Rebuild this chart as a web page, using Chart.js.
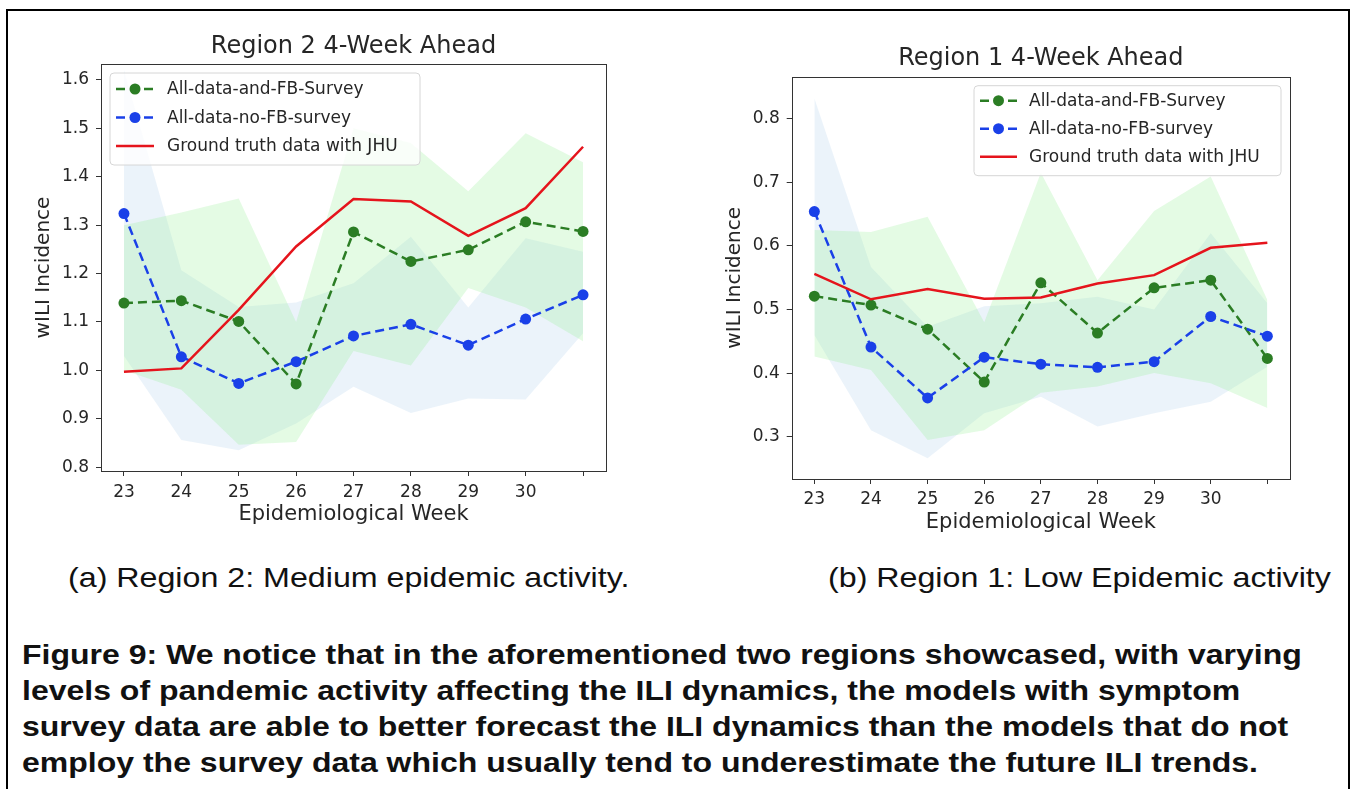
<!DOCTYPE html>
<html>
<head>
<meta charset="utf-8">
<script src="https://cdn.jsdelivr.net/npm/chart.js@4.4.1/dist/chart.umd.min.js"></script>
<style>
  html, body { margin: 0; padding: 0; background: #fff; }
  body { width: 1356px; height: 789px; position: relative; overflow: hidden; }
  #frame { position: absolute; left: 6px; top: 9px; width: 1344px; height: 800px;
           border: 2px solid #000; border-bottom: none; box-sizing: border-box; }
  canvas { position: absolute; top: 0; }
  #c1 { left: 0; }
  #c2 { left: 680px; }
  .sub { position: absolute; font-family: "Liberation Sans", Arial, sans-serif; font-size: 28px;
         color: #111; white-space: nowrap; line-height: 32px; transform-origin: left center;
         transform: scaleX(1.15); }
  #capA { left: 68px; top: 562px; }
  #capB { left: 828px; top: 562px; }
  #fig { position: absolute; left: 22px; top: 637px; font-family: "Liberation Sans", Arial, sans-serif;
         font-weight: bold; font-size: 28px; line-height: 36px; color: #111; white-space: nowrap;
         transform-origin: left top; transform: scaleX(1.143); }
</style>
</head>
<body>
<div id="frame"></div>
<canvas id="c1" width="680" height="545"></canvas>
<canvas id="c2" width="676" height="545"></canvas>
<div class="sub" id="capA">(a) Region 2: Medium epidemic activity.</div>
<div class="sub" id="capB">(b) Region 1: Low Epidemic activity</div>
<div id="fig">Figure 9: We notice that in the aforementioned two regions showcased, with varying<br>levels of pandemic activity affecting the ILI dynamics, the models with symptom<br>survey data are able to better forecast the ILI dynamics than the models that do not<br>employ the survey data which usually tend to underestimate the future ILI trends.</div>
<script>
// ---------------- data ----------------
const weeks = [23, 24, 25, 26, 27, 28, 29, 30, 31];
const xTickLabels = ['23', '24', '25', '26', '27', '28', '29', '30', ''];
const seriesNames = ['All-data-and-FB-Survey', 'All-data-no-FB-survey', 'Ground truth data with JHU'];
const chartTitles = ['Region 2 4-Week Ahead', 'Region 1 4-Week Ahead'];
const xAxisTitle = 'Epidemiological Week';
const yAxisTitle = 'wILI Incidence';

// Region 2 (left)
const r2YTicks = [0.8, 0.9, 1.0, 1.1, 1.2, 1.3, 1.4, 1.5, 1.6];
const r2Green      = [1.139, 1.144, 1.101, 0.972, 1.286, 1.225, 1.249, 1.307, 1.287];
const r2GreenUpper = [1.300, 1.326, 1.355, 1.100, 1.500, 1.470, 1.370, 1.490, 1.430];
const r2GreenLower = [1.000, 0.960, 0.846, 0.852, 1.040, 1.010, 1.170, 1.130, 1.060];
const r2Blue       = [1.324, 1.028, 0.973, 1.018, 1.071, 1.095, 1.052, 1.106, 1.156];
const r2BlueUpper  = [1.620, 1.207, 1.131, 1.140, 1.180, 1.276, 1.130, 1.273, 1.245];
const r2BlueLower  = [1.030, 0.856, 0.835, 0.890, 0.966, 0.912, 0.942, 0.940, 1.077];
const r2Truth      = [0.997, 1.004, 1.125, 1.256, 1.354, 1.349, 1.278, 1.335, 1.462];

// Region 1 (right)
const r1YTicks = [0.3, 0.4, 0.5, 0.6, 0.7, 0.8];
const r1Green      = [0.521, 0.507, 0.469, 0.386, 0.542, 0.463, 0.534, 0.546, 0.423];
const r1GreenUpper = [0.625, 0.622, 0.646, 0.480, 0.715, 0.546, 0.655, 0.709, 0.515];
const r1GreenLower = [0.426, 0.405, 0.295, 0.310, 0.369, 0.379, 0.400, 0.384, 0.345];
const r1Blue       = [0.654, 0.441, 0.361, 0.425, 0.414, 0.409, 0.418, 0.489, 0.458];
const r1BlueUpper  = [0.832, 0.567, 0.473, 0.505, 0.510, 0.520, 0.500, 0.620, 0.510];
const r1BlueLower  = [0.460, 0.310, 0.266, 0.337, 0.363, 0.316, 0.337, 0.355, 0.410];
const r1Truth      = [0.556, 0.516, 0.532, 0.517, 0.519, 0.541, 0.554, 0.597, 0.605];

// ---------------- styling ----------------
const FONT = '"DejaVu Sans", sans-serif';
const TXT = '#262626';
const GREEN = '#2b7d24';
const BLUE = '#1a40e8';
const RED = '#e5141c';
const GREEN_BAND = 'rgba(144, 238, 144, 0.24)';
const BLUE_BAND = 'rgba(173, 205, 235, 0.24)';

const pts = arr => weeks.map((w, i) => ({ x: w, y: arr[i] }));

const boxAndLegend = {
  id: 'boxAndLegend',
  afterDatasetsDraw(chart, args, o) {
    const ctx = chart.ctx, ca = chart.chartArea;
    ctx.save();
    // axes box
    ctx.strokeStyle = '#333';
    ctx.lineWidth = 1;
    ctx.setLineDash([]);
    ctx.strokeRect(Math.round(ca.left) + 0.5, Math.round(ca.top) + 0.5,
                   Math.round(ca.right - ca.left), Math.round(ca.bottom - ca.top));
    // title centred over the axes
    ctx.fillStyle = TXT;
    ctx.font = o.titleSize + 'px ' + FONT;
    ctx.textAlign = 'center';
    ctx.textBaseline = 'middle';
    ctx.fillText(o.title, (ca.left + ca.right) / 2, ca.top - o.titleGap);
    // legend
    const w = o.width, h = o.height;
    const x0 = o.anchor === 'right' ? ca.right - o.inset - w : ca.left + o.inset;
    const y0 = ca.top + o.inset;
    ctx.beginPath();
    const r = 4;
    ctx.moveTo(x0 + r, y0);
    ctx.arcTo(x0 + w, y0, x0 + w, y0 + h, r);
    ctx.arcTo(x0 + w, y0 + h, x0, y0 + h, r);
    ctx.arcTo(x0, y0 + h, x0, y0, r);
    ctx.arcTo(x0, y0, x0 + w, y0, r);
    ctx.closePath();
    ctx.fillStyle = 'rgba(255,255,255,0.8)';
    ctx.fill();
    ctx.strokeStyle = '#d6d6d6';
    ctx.stroke();
    o.items.forEach((idx, i) => {
      const ds = chart.data.datasets[idx];
      const cy = y0 + o.rowTop + i * o.rowGap;
      const hx = x0 + o.handleLeft, hl = o.handleLen;
      ctx.strokeStyle = ds.borderColor;
      ctx.lineWidth = ds.borderWidth;
      ctx.setLineDash(ds.borderDash || []);
      ctx.beginPath();
      ctx.moveTo(hx, cy);
      ctx.lineTo(hx + hl, cy);
      ctx.stroke();
      ctx.setLineDash([]);
      if (ds.pointRadius > 0) {
        ctx.beginPath();
        ctx.arc(hx + hl / 2, cy, ds.pointRadius, 0, Math.PI * 2);
        ctx.fillStyle = ds.pointBackgroundColor;
        ctx.fill();
      }
      ctx.fillStyle = TXT;
      ctx.font = o.fontSize + 'px ' + FONT;
      ctx.textBaseline = 'middle';
      ctx.textAlign = 'left';
      ctx.fillText(seriesNames[i], x0 + o.textLeft, cy + 1);
    });
    ctx.restore();
  }
};

function makeChart(id, d, g) {
  const datasets = [
    { label: seriesNames[2], data: pts(d.truth), borderColor: RED, backgroundColor: RED,
      borderWidth: 2.5, pointRadius: 0, fill: false, tension: 0 },
    { label: seriesNames[1], data: pts(d.blue), borderColor: BLUE, backgroundColor: BLUE,
      borderWidth: 2.5, borderDash: [9, 5], pointRadius: 5.5, pointBackgroundColor: BLUE,
      pointBorderWidth: 0, fill: false, tension: 0 },
    { label: seriesNames[0], data: pts(d.green), borderColor: GREEN, backgroundColor: GREEN,
      borderWidth: 2.5, borderDash: [9, 5], pointRadius: 5.5, pointBackgroundColor: GREEN,
      pointBorderWidth: 0, fill: false, tension: 0 },
    { label: 'gU', data: pts(d.greenUpper), borderWidth: 0, pointRadius: 0,
      backgroundColor: GREEN_BAND, fill: '+1', tension: 0 },
    { label: 'gL', data: pts(d.greenLower), borderWidth: 0, pointRadius: 0, fill: false, tension: 0 },
    { label: 'bU', data: pts(d.blueUpper), borderWidth: 0, pointRadius: 0,
      backgroundColor: BLUE_BAND, fill: '+1', tension: 0 },
    { label: 'bL', data: pts(d.blueLower), borderWidth: 0, pointRadius: 0, fill: false, tension: 0 }
  ];
  return new Chart(document.getElementById(id), {
    type: 'line',
    data: { datasets },
    plugins: [boxAndLegend],
    options: {
      responsive: false,
      animation: false,
      devicePixelRatio: 1,
      layout: { padding: { left: 0, right: g.padRight, top: g.padTop, bottom: 0 } },
      plugins: {
        legend: { display: false },
        tooltip: { enabled: false },
        filler: { propagate: false },
        title: { display: false },
        boxAndLegend: Object.assign({ title: d.title }, g.legend)
      },
      scales: {
        x: {
          type: 'linear', min: 22.6, max: 31.4,
          afterBuildTicks: s => { s.ticks = weeks.map(v => ({ value: v })); },
          afterFit: s => { s.height = g.xHeight; },
          ticks: { color: TXT, font: { family: FONT, size: 17 }, padding: g.xTickPad,
                   maxRotation: 0, autoSkip: false,
                   callback: v => xTickLabels[weeks.indexOf(v)] },
          grid: { display: true, drawOnChartArea: false, drawTicks: true, tickLength: 5,
                  color: '#333', tickColor: '#333' },
          border: { display: false },
          title: { display: true, text: xAxisTitle, color: TXT,
                   font: { family: FONT, size: 21, lineHeight: 1.2 },
                   padding: { top: 0, bottom: g.xTitlePad } }
        },
        y: {
          type: 'linear', min: d.yMin, max: d.yMax,
          afterBuildTicks: s => { s.ticks = d.yTicks.map(v => ({ value: v })); },
          afterFit: s => { s.width = g.yWidth; },
          ticks: { color: TXT, font: { family: FONT, size: 17 }, padding: 7,
                   autoSkip: false, callback: v => v.toFixed(1) },
          grid: { display: true, drawOnChartArea: false, drawTicks: true, tickLength: 5,
                  color: '#333', tickColor: '#333' },
          border: { display: false },
          title: { display: true, text: yAxisTitle, color: TXT,
                   font: { family: FONT, size: 20, lineHeight: 1.2 },
                   padding: { top: g.yTitlePad, bottom: 0 } }
        }
      }
    }
  });
}

makeChart('c1', {
  title: chartTitles[0], yMin: 0.792, yMax: 1.633, yTicks: r2YTicks,
  green: r2Green, greenUpper: r2GreenUpper, greenLower: r2GreenLower,
  blue: r2Blue, blueUpper: r2BlueUpper, blueLower: r2BlueLower, truth: r2Truth
}, {
  padRight: 74, padTop: 64, xHeight: 74, xTickPad: 6, xTitlePad: 17.5,
  yWidth: 101, yTitlePad: 32,
  legend: { anchor: 'left', inset: 9, width: 310, height: 92, rowTop: 16, rowGap: 28.5,
            handleLeft: 6, handleLen: 38, textLeft: 57, fontSize: 17, items: [2, 1, 0],
            titleSize: 24, titleGap: 17 }
});

makeChart('c2', {
  title: chartTitles[1], yMin: 0.2335, yMax: 0.866, yTicks: r1YTicks,
  green: r1Green, greenUpper: r1GreenUpper, greenLower: r1GreenLower,
  blue: r1Blue, blueUpper: r1BlueUpper, blueLower: r1BlueLower, truth: r1Truth
}, {
  padRight: 66, padTop: 76.7, xHeight: 66, xTickPad: 5, xTitlePad: 9.5,
  yWidth: 111.7, yTitlePad: 43,
  legend: { anchor: 'right', inset: 9, width: 307, height: 90, rowTop: 15, rowGap: 28,
            handleLeft: 6, handleLen: 37, textLeft: 55, fontSize: 17, items: [2, 1, 0],
            titleSize: 24, titleGap: 17.7 }
});
</script>
</body>
</html>
